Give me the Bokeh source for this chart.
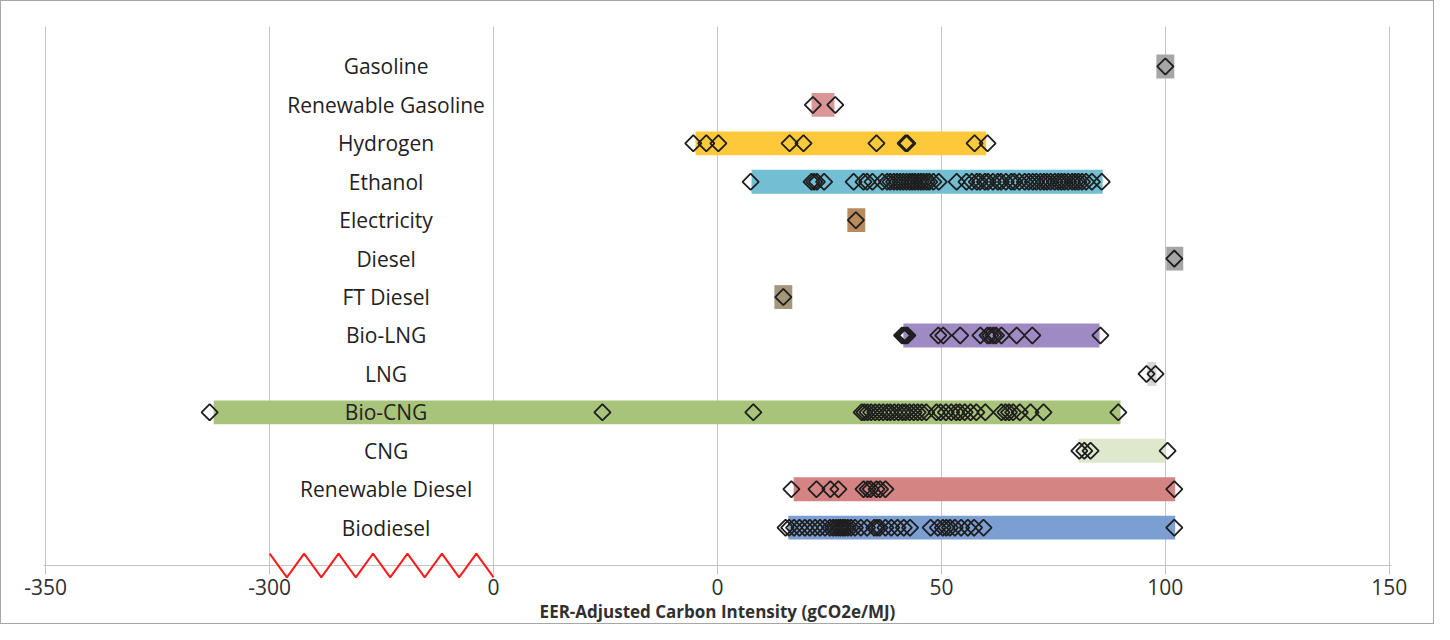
import math
from bokeh.plotting import figure
from bokeh.models import Range1d, FixedTicker, ColumnDataSource
from bokeh.core.properties import value
from bokeh.embed import file_html
from bokeh.resources import INLINE

FONT = "Open Sans"

# ---------------- data (carbon intensity, gCO2e/MJ) ----------------
categories = ["Gasoline", "Renewable Gasoline", "Hydrogen", "Ethanol", "Electricity", "Diesel",
              "FT Diesel", "Bio-LNG", "LNG", "Bio-CNG", "CNG", "Renewable Diesel", "Biodiesel"]

band_lo = [98.0, 21.0, -4.9, 7.6, 29.0, 100.2, 12.7, 41.5, 96.0, -312.5, 80.6, 17.0, 15.8]
band_hi = [102.0, 26.1, 60.0, 86.0, 33.0, 104.0, 16.7, 85.3, 98.0, 90.0, 100.0, 102.2, 102.2]
band_colors = ["#a6a6a6", "#d99694", "#fdc83a", "#73bed2", "#b98a5e", "#a6a6a6", "#a5977a",
               "#a08ac4", "#d6d6d6", "#a8c47a", "#dde8cc", "#d48482", "#7c9fd3"]

gasoline = [100.0]
renewable_gasoline = [21.3, 26.3]
hydrogen = [-5.4, -2.5, 0.2, 16.1, 19.2, 35.5, 42.0, 42.4, 57.4, 60.3]
ethanol = [7.4, 21.0, 21.6, 22.2, 23.8, 30.4, 32.6, 33.4, 34.6, 36.8, 37.9, 38.6, 39.4, 40.1,
           40.8, 41.5, 42.2, 42.9, 43.5, 44.1, 44.8, 45.4, 46.0, 46.7, 47.3, 48.2, 49.4, 53.4,
           55.6, 56.8, 57.9, 58.6, 59.7, 60.4, 61.5, 62.6, 63.3, 64.4, 65.6, 66.3, 67.4, 68.6,
           69.5, 70.4, 71.2, 72.1, 72.9, 73.6, 74.4, 75.3, 76.1, 76.8, 77.5, 78.3, 79.2, 79.9,
           80.6, 81.4, 82.3, 83.6, 85.8]
electricity = [30.9]
diesel = [102.0]
ft_diesel = [14.7]
bio_lng = [41.2, 41.6, 42.0, 42.4, 49.3, 50.4, 54.2, 58.7, 60.3, 60.9, 61.6, 62.2, 63.4, 66.8,
           70.3, 85.5]
lng = [95.8, 97.8]
bio_cng = [-313.4, -25.7, 8.0, 32.2, 32.8, 33.5, 34.3, 35.2, 36.1, 37.0, 37.9, 38.6, 39.5, 40.4,
           41.3, 42.0, 42.9, 43.8, 44.7, 45.6, 46.6, 48.9, 49.8, 51.0, 52.2, 53.3, 54.1, 55.2,
           56.5, 57.8, 59.8, 63.4, 64.3, 65.1, 66.0, 67.5, 69.9, 72.8, 89.5]
cng = [80.8, 81.9, 83.3, 100.5]
renewable_diesel = [16.5, 22.1, 25.2, 27.0, 32.6, 33.5, 34.2, 35.5, 36.3, 37.5, 102.0]
biodiesel = [15.2, 16.0, 17.1, 18.3, 19.5, 20.6, 21.8, 22.9, 24.0, 25.1, 25.8, 26.4, 27.0, 27.5,
             28.0, 28.5, 29.1, 29.8, 30.7, 32.0, 33.4, 35.0, 35.6, 36.2, 37.5, 38.8, 40.2, 41.6,
             43.0, 47.6, 49.2, 50.3, 51.1, 51.9, 53.0, 54.4, 55.9, 57.3, 59.4, 102.0]

series = [gasoline, renewable_gasoline, hydrogen, ethanol, electricity, diesel, ft_diesel,
          bio_lng, lng, bio_cng, cng, renewable_diesel, biodiesel]

# broken axis: tick positions on the drawn (compressed) axis and the labels printed there
tick_positions = [-150, -100, -50, 0, 50, 100, 150]
tick_labels = ["-350", "-300", "0", "0", "50", "100", "150"]
BREAK_FROM, BREAK_TO = -300.0, -50.0      # compressed stretch of the axis (zig-zag)


def to_axis(v):
    """Map a carbon-intensity value onto the broken axis."""
    if v <= BREAK_FROM:
        return v + 200.0
    if v < BREAK_TO:
        return -100.0 + (v - BREAK_FROM) * 50.0 / (BREAK_TO - BREAK_FROM)
    return v


n = len(categories)
ypos = [n - i for i in range(n)]          # Gasoline at the top

band_src = ColumnDataSource(dict(
    y=ypos,
    left=[to_axis(v) for v in band_lo],
    right=[to_axis(v) for v in band_hi],
    color=band_colors,
))

px, py = [], []
for yy, vals in zip(ypos, series):
    for v in vals:
        px.append(to_axis(v))
        py.append(yy)
pt_src = ColumnDataSource(dict(x=px, y=py))

lab_src = ColumnDataSource(dict(x=[-74.0] * n, y=ypos, text=categories))

# ---------------- figure ----------------
p = figure(width=1434, height=624,
           x_range=Range1d(-150.5, 150.5), y_range=Range1d(0.015, 14.04),
           output_backend="svg", toolbar_location=None,
           min_border_left=42, min_border_right=44, min_border_top=25, min_border_bottom=58,
           background_fill_color="white", border_fill_color="white")
p.outline_line_color = None
p.styles = {"border": "1px solid #a6a6a6"}

p.yaxis.visible = False
p.ygrid.visible = False
p.xgrid.grid_line_color = "#c4c4c4"
p.xgrid.grid_line_width = 1

ax = p.xaxis[0]
ax.ticker = FixedTicker(ticks=tick_positions)
ax.major_label_overrides = {t: l for t, l in zip(tick_positions, tick_labels)}
ax.axis_line_color = "#c4c4c4"
ax.major_tick_line_color = "#c4c4c4"
ax.major_tick_out = 9
ax.major_tick_in = 0
ax.minor_tick_line_color = None
ax.major_label_text_font = FONT
ax.major_label_text_font_size = "21px"
ax.major_label_text_color = "#303030"
ax.major_label_standoff = 4
ax.axis_label = "EER-Adjusted Carbon Intensity (gCO2e/MJ)"
ax.axis_label_text_font = FONT
ax.axis_label_text_font_size = "17px"
ax.axis_label_text_font_style = "bold"
ax.axis_label_text_color = "#303030"
ax.axis_label_standoff = 2

# bands
p.hbar(y="y", left="left", right="right", height=0.62, source=band_src,
       fill_color="color", line_color=None)

# category labels
p.text(x="x", y="y", text="text", source=lab_src, text_font=value(FONT),
       text_font_size="21px", text_align="center", text_baseline="middle",
       text_color="#222222")

# diamonds
p.scatter(x="x", y="y", source=pt_src, marker="square", angle=math.pi / 4, size=11.5,
          fill_color=None, line_color="#1e1e1e", line_width=1.8)

# zig-zag marking the axis break
k = 13
zx = [-100 + i * 50.0 / k for i in range(k + 1)]
zy = [0.326 if i % 2 == 0 else -0.296 for i in range(k + 1)]
zz = p.line(zx, zy, line_color="#ff1a1a", line_width=2)
zz.level = "overlay"

open("out.html", "w").write(file_html(p, INLINE))
